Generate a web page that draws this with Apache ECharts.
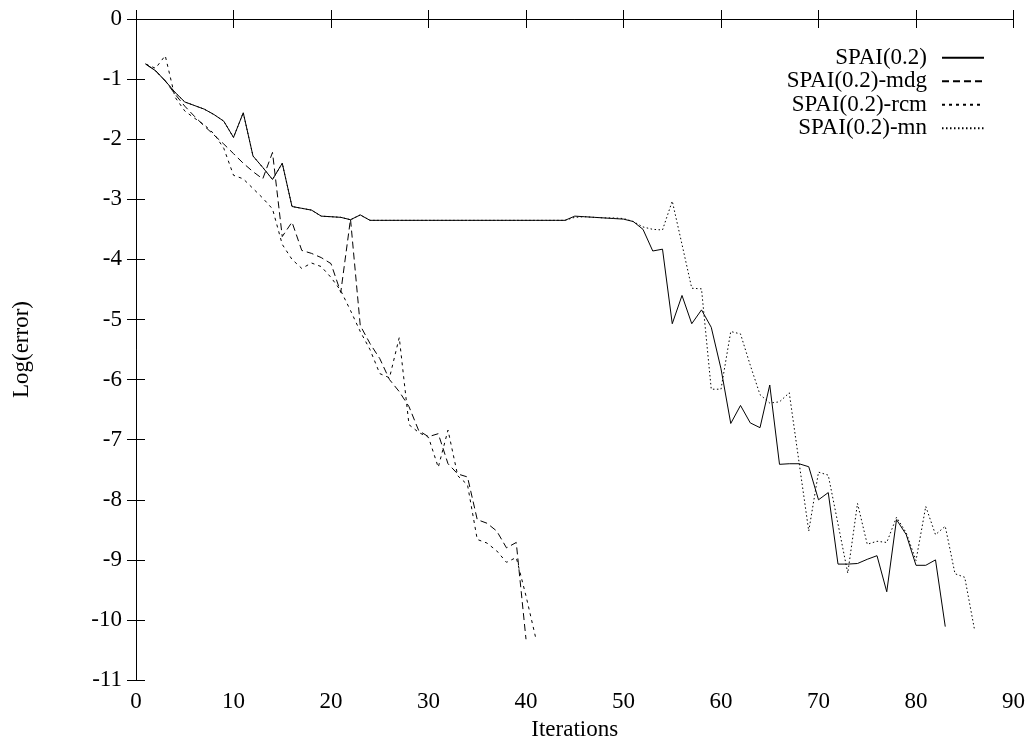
<!DOCTYPE html>
<html>
<head>
<meta charset="utf-8">
<script src="https://cdn.jsdelivr.net/npm/echarts@6/dist/echarts.min.js"></script>
<style>
html,body{margin:0;padding:0;background:#fff;}
#chart{width:1028px;height:746px;}
</style>
</head>
<body>
<div id="chart"></div>
<script>
// Series names
const seriesNames = ['SPAI(0.2)', 'SPAI(0.2)-mdg', 'SPAI(0.2)-rcm', 'SPAI(0.2)-mn'];

// Log(error) per iteration, iteration 1..N
const spai = [
  -0.75, -0.86, -1.03, -1.22, -1.38, -1.44, -1.50, -1.59, -1.70, -1.97,
  -1.56, -2.28, -2.47, -2.67, -2.40, -3.12, -3.15, -3.18, -3.28, -3.29,
  -3.30, -3.34, -3.26, -3.35, -3.35, -3.35, -3.35, -3.35, -3.35, -3.35,
  -3.35, -3.35, -3.35, -3.35, -3.35, -3.35, -3.35, -3.35, -3.35, -3.35,
  -3.35, -3.35, -3.35, -3.35, -3.28, -3.29, -3.30, -3.31, -3.32, -3.33,
  -3.37, -3.50, -3.86, -3.83, -5.07, -4.60, -5.07, -4.84, -5.13, -5.82,
  -6.73, -6.43, -6.72, -6.80, -6.09, -7.41, -7.40, -7.40, -7.45, -8.00,
  -7.88, -9.07, -9.07, -9.06, -8.99, -8.93, -9.53, -8.33, -8.58, -9.09,
  -9.09, -9.00, -10.11
];
const spaiMdg = [
  -0.75, -0.86, -1.03, -1.25, -1.45, -1.62, -1.78, -1.93, -2.08, -2.24,
  -2.40, -2.54, -2.66, -2.22, -3.62, -3.38, -3.85, -3.90, -3.97, -4.07,
  -4.55, -3.33, -5.10, -5.40, -5.65, -6.00, -6.20, -6.45, -6.85, -6.95,
  -6.90, -7.40, -7.57, -7.62, -8.33, -8.39, -8.52, -8.80, -8.71, -10.32
];
const spaiRcm = [
  -0.75, -0.82, -0.61, -1.30, -1.53, -1.65, -1.76, -1.91, -2.15, -2.60,
  -2.66, -2.82, -2.98, -3.16, -3.75, -4.00, -4.15, -4.06, -4.12, -4.30,
  -4.52, -4.85, -5.20, -5.50, -5.90, -5.97, -5.30, -6.75, -6.88, -6.96,
  -7.46, -6.84, -7.60, -7.75, -8.66, -8.72, -8.85, -9.04, -8.96, -9.60,
  -10.30
];
const spaiMn = [
  -0.75, -0.86, -1.03, -1.22, -1.38, -1.44, -1.50, -1.59, -1.70, -1.97,
  -1.56, -2.28, -2.47, -2.67, -2.40, -3.12, -3.15, -3.18, -3.28, -3.29,
  -3.30, -3.34, -3.26, -3.35, -3.35, -3.35, -3.35, -3.35, -3.35, -3.35,
  -3.35, -3.35, -3.35, -3.35, -3.35, -3.35, -3.35, -3.35, -3.35, -3.35,
  -3.35, -3.35, -3.35, -3.35, -3.30, -3.29, -3.30, -3.31, -3.31, -3.32,
  -3.37, -3.46, -3.50, -3.51, -3.03, -3.75, -4.48, -4.49, -6.16, -6.16,
  -5.20, -5.24, -5.76, -6.25, -6.39, -6.37, -6.22, -7.37, -8.52, -7.54,
  -7.59, -8.40, -9.22, -8.06, -8.74, -8.69, -8.71, -8.29, -8.55, -9.01,
  -8.11, -8.58, -8.44, -9.23, -9.29, -10.16
];

// Axis ranges and tick steps
const xMin = 0, xMax = 90, xStep = 10;
const yMin = -11, yMax = 0, yStep = 1;

function toPairs(arr) { return arr.map((v, i) => [i + 1, v]); }

const FONT = '"Liberation Serif", "DejaVu Serif", serif';
const FS = 23;
const black = '#000';

const chart = echarts.init(document.getElementById('chart'), null, { renderer: 'canvas' });

const baseAxisLine = { show: true, lineStyle: { color: black, width: 1 } };
const tickIn = { show: true, inside: true, length: 9, lineStyle: { color: black, width: 1 } };

const styles = [
  { type: 'solid' },
  { type: [7, 4] },
  { type: [3, 4] },
  { type: [1.5, 2.5] }
];
const datasets = [spai, spaiMdg, spaiRcm, spaiMn];

const option = {
  backgroundColor: '#fff',
  animation: false,
  grid: { left: 136, right: 13, top: 19, bottom: 56, show: false },
  legend: {
    data: seriesNames,
    orient: 'vertical',
    align: 'right',
    right: 38,
    top: 41,
    itemWidth: 42,
    itemHeight: 10,
    itemGap: 0,
    itemStyle: { color: 'rgba(0,0,0,0)', borderColor: 'rgba(0,0,0,0)', borderWidth: 0, opacity: 0 },
    textStyle: { fontFamily: FONT, fontSize: FS, color: black, lineHeight: 23.5, padding: [0, 10, 0, 0] },
    inactiveColor: black
  },
  xAxis: [
    {
      type: 'value', position: 'bottom', min: xMin, max: xMax, interval: xStep,
      axisLine: baseAxisLine, axisTick: tickIn, splitLine: { show: false },
      axisLabel: { color: black, fontFamily: FONT, fontSize: FS, margin: 10 },
      name: 'Iterations', nameLocation: 'middle', nameGap: 35,
      nameTextStyle: { color: black, fontFamily: FONT, fontSize: FS }
    },
    {
      type: 'value', position: 'top', min: xMin, max: xMax, interval: xStep,
      axisLine: baseAxisLine, axisTick: tickIn, splitLine: { show: false },
      axisLabel: { show: false }
    }
  ],
  yAxis: [
    {
      type: 'value', position: 'left', min: yMin, max: yMax, interval: yStep,
      axisLine: baseAxisLine, axisTick: tickIn, splitLine: { show: false },
      axisLabel: { color: black, fontFamily: FONT, fontSize: FS, margin: 14 },
      name: 'Log(error)', nameLocation: 'middle', nameGap: 103, nameRotate: 90,
      nameTextStyle: { color: black, fontFamily: FONT, fontSize: FS }
    },
    {
      type: 'value', position: 'right', min: yMin, max: yMax, interval: yStep,
      axisLine: baseAxisLine, axisTick: tickIn, splitLine: { show: false },
      axisLabel: { show: false }
    }
  ],
  series: seriesNames.map((name, k) => ({
    name: name,
    type: 'line',
    xAxisIndex: 0,
    yAxisIndex: 0,
    data: toPairs(datasets[k]),
    symbol: 'none',
    showSymbol: false,
    smooth: false,
    silent: true,
    itemStyle: { color: black },
    lineStyle: { color: black, width: 1, type: styles[k].type },
    z: 10 - k
  }))
};

chart.setOption(option);
</script>
</body>
</html>
